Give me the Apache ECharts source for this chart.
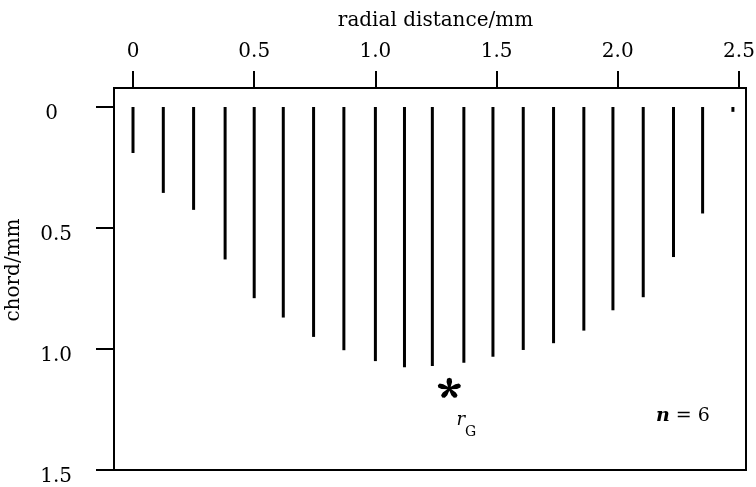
<!DOCTYPE html>
<html>
<head>
<meta charset="utf-8">
<title>chord vs radial distance</title>
<script src="https://cdn.jsdelivr.net/npm/echarts@6/dist/echarts.min.js"></script>
<style>
  html, body { margin: 0; padding: 0; background: #fff; }
  #chart { width: 756px; height: 487px; }
</style>
</head>
<body>
<div id="chart"></div>
<script>
// 径向位置 (mm)，每根竖线一个
const radialPos = [0, 0.125, 0.25, 0.38, 0.5, 0.62, 0.745, 0.87, 1.0, 1.12, 1.235,
  1.365, 1.485, 1.61, 1.735, 1.86, 1.98, 2.105, 2.23, 2.35, 2.475];
// 对应的弦长 (mm)
const chordLen = [0.19, 0.355, 0.425, 0.63, 0.79, 0.87, 0.95, 1.005, 1.05, 1.075, 1.07,
  1.057, 1.032, 1.004, 0.976, 0.924, 0.84, 0.786, 0.62, 0.44, 0.02];
// r_G 星号的位置
const rG = [1.305, 1.16];
// 刻度
const xTicks = [0, 0.5, 1.0, 1.5, 2.0, 2.5];
const xTickLabels = ['0', '0.5', '1.0', '1.5', '2.0', '2.5'];
const yTicks = [0, 0.5, 1.0, 1.5];
const yTickLabels = ['0', '0.5', '1.0', '1.5'];

const FONT = 'DejaVu Serif';

// 五瓣星号的路径
function asteriskPath() {
  const arm = [[0, -0.7], [6, -2.3], [9, -1.9], [10, 0], [9, 1.9], [6, 2.3], [0, 0.7]];
  let d = '';
  for (let k = 0; k < 5; k++) {
    const a = k * 2 * Math.PI / 5;
    arm.forEach((p, i) => {
      // 沿臂方向 (sin a, -cos a)，法向 (cos a, sin a)
      const x = p[0] * Math.sin(a) + p[1] * Math.cos(a);
      const y = -p[0] * Math.cos(a) + p[1] * Math.sin(a);
      d += (i === 0 ? 'M' : 'L') + x.toFixed(2) + ',' + y.toFixed(2) + ' ';
    });
    d += 'Z ';
  }
  return 'path://' + d;
}

const chart = echarts.init(document.getElementById('chart'));

const option = {
  backgroundColor: '#fff',
  animation: false,
  textStyle: { fontFamily: FONT, color: '#000' },
  grid: {
    left: 114, top: 88, right: 10, bottom: 17,
    outerBoundsMode: 'none',
    containLabel: false,
    show: true, borderColor: '#000', borderWidth: 2,
    backgroundColor: 'transparent'
  },
  xAxis: {
    type: 'value',
    position: 'top',
    min: -0.0784,
    max: 2.529,
    name: 'radial distance/mm',
    nameLocation: 'middle',
    nameGap: 57,
    nameTextStyle: { fontFamily: FONT, fontSize: 20, color: '#000', padding: [0, 0, 0, 11] },
    axisLine: { show: true, onZero: false, lineStyle: { color: '#000', width: 2 } },
    axisTick: { show: true, length: 17, customValues: xTicks, lineStyle: { color: '#000', width: 2 } },
    axisLabel: {
      customValues: xTicks,
      margin: 26,
      fontFamily: FONT, fontSize: 20, color: '#000',
      formatter: v => xTickLabels[xTicks.indexOf(v)]
    },
    splitLine: { show: false }
  },
  yAxis: {
    type: 'value',
    inverse: true,
    min: -0.0785,
    max: 1.5,
    name: 'chord/mm',
    nameLocation: 'middle',
    nameGap: 90,
    nameTextStyle: { fontFamily: FONT, fontSize: 20, color: '#000', padding: [0, 0, 0, 18] },
    axisLine: { show: true, onZero: false, lineStyle: { color: '#000', width: 2 } },
    axisTick: { show: true, length: 18, customValues: yTicks, lineStyle: { color: '#000', width: 2 } },
    axisLabel: {
      customValues: yTicks,
      margin: 42,
      padding: [14, 0, 0, 0],
      fontFamily: FONT, fontSize: 20, color: '#000',
      // "0" 在原图里比其它标签更靠左
      formatter: v => (v === 0 ? '{z|0}' : yTickLabels[yTicks.indexOf(v)]),
      rich: {
        z: { fontFamily: FONT, fontSize: 20, color: '#000', padding: [0, 14, 0, 0] }
      }
    },
    splitLine: { show: false }
  },
  series: [
    {
      type: 'bar',
      barWidth: 3,
      itemStyle: { color: '#000' },
      data: radialPos.map((x, i) => [x, chordLen[i]])
    },
    {
      type: 'scatter',
      symbol: asteriskPath(),
      symbolSize: [23, 20],
      itemStyle: { color: '#000', opacity: 1 },
      label: {
        show: true,
        position: 'inside',
        offset: [17, 38],
        color: '#000',
        formatter: '{r|r}{g|G}',
        rich: {
          r: { fontFamily: FONT, fontStyle: 'italic', fontSize: 18, color: '#000', lineHeight: 20, verticalAlign: 'top' },
          g: { fontFamily: FONT, fontSize: 14, color: '#000', lineHeight: 28, verticalAlign: 'bottom' }
        }
      },
      data: [rG]
    }
  ],
  graphic: [
    {
      type: 'text',
      left: 656,
      top: 407,
      style: {
        text: '{n|n} = 6',
        fontFamily: FONT,
        fontSize: 19,
        fill: '#000',
        rich: {
          n: { fontFamily: FONT, fontStyle: 'italic', fontWeight: 'bold', fontSize: 19, fill: '#000' }
        }
      }
    }
  ]
};

chart.setOption(option);
</script>
</body>
</html>
